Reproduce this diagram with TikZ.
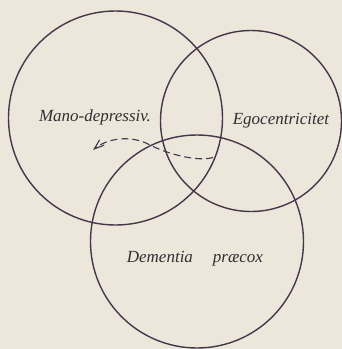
\documentclass[tikz,border=0pt]{standalone}
\usepackage{fontspec}
\setmainfont{Liberation Serif}
\usetikzlibrary{arrows.meta}
\definecolor{paper}{HTML}{ECE7DA}
\definecolor{ink}{HTML}{44384A}
\definecolor{textink}{HTML}{342C33}
\begin{document}
\begin{tikzpicture}[x=1bp,y=-1bp,
  ring/.style={circle, draw=ink, line width=1.4bp, inner sep=0pt, outer sep=0pt, minimum size=#1},
  label/.style={font=\fontsize{17bp}{20bp}\selectfont\itshape, text=textink, inner sep=0pt, anchor=base},
  flow/.style={draw=ink, line width=1.1bp, dash pattern=on 7bp off 4bp, -{Straight Barb[length=10bp,width=7bp]}}]
\fill[paper] (0,0) rectangle (342,349);
\useasboundingbox (0,0) rectangle (342,349);
\node[ring=214bp] (mano) at (115.5,118) {};
\node[ring=181bp] (ego) at (251,121) {};
\node[ring=213bp] (dem) at (197,241.5) {};
\node[label] (manotxt) at (95,121.5) {Mano-depressiv.};
\node[label] (egotxt) at (281,124) {Egocentricitet};
\node[label, anchor=base west] (demtxt) at (126.7,262) {Dementia\hspace{20bp}præcox};
\coordinate (arrstart) at (213,157.5);
\coordinate (arrmid) at (150,145);
\coordinate (arrend) at (93,150);
\draw[flow] (arrstart) .. controls (197,162) and (168,154) .. (arrmid)
  .. controls (130,134) and (106,139) .. (arrend);
\end{tikzpicture}
\end{document}
